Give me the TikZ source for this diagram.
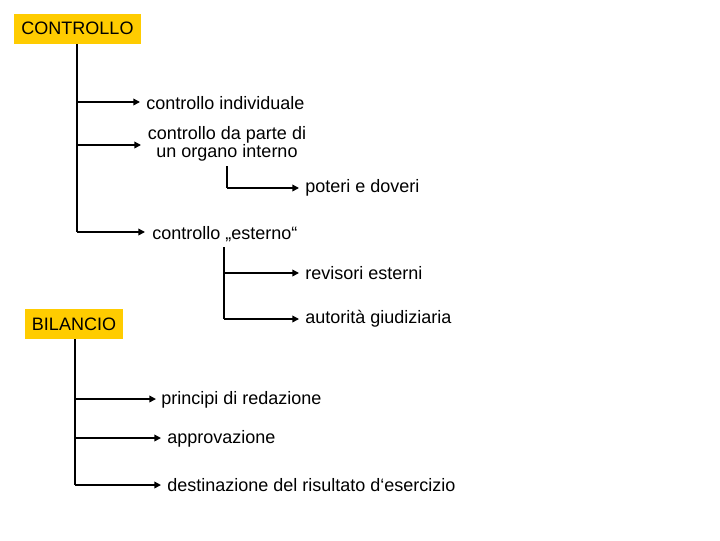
\documentclass[tikz,border=0pt]{standalone}
\usepackage{fontspec}
\setmainfont{Liberation Sans}
\usetikzlibrary{arrows.meta}
\definecolor{ybox}{HTML}{FFCC00}
\begin{document}
\begin{tikzpicture}[x=0.75pt,y=-0.75pt,
  every node/.style={font=\fontsize{13.5}{13.5}\selectfont,inner sep=0pt},
  hdr/.style={fill=ybox,minimum height=22.5pt,inner xsep=4pt},
  lbl/.style={anchor=west},
  arr/.style={line width=1.1pt,-{Triangle[length=5pt,width=5pt]}},
  ln/.style={line width=1.1pt}]
\useasboundingbox (0,0) rectangle (720,540);
\node[hdr,minimum width=95.25pt] (ctrl) at (77.5,28.5) {CONTROLLO};
\node[hdr,minimum width=73.5pt] (bil) at (74,324) {BILANCIO};
\node[lbl] (ci) at (146,103) {controllo individuale};
\node[align=center] (cd) at (227,144) {controllo da parte di\\un organo interno};
\node[lbl] (pd) at (305,188) {poteri e doveri};
\node[lbl] (ce) at (152,234) {controllo „esterno“};
\node[lbl] (re) at (305,273) {revisori esterni};
\node[lbl] (ag) at (305,319) {autorità giudiziaria};
\node[lbl] (pr) at (161,400) {principi di redazione};
\node[lbl] (ap) at (167,439) {approvazione};
\node[lbl] (de) at (167,485) {destinazione del risultato d‘esercizio};
\coordinate (t1) at (77,232);
\draw[ln] (ctrl.south -| t1) -- (t1);
\draw[arr] (77,102) -- (140,102);
\draw[arr] (77,145) -- (141,145);
\draw[arr] (t1) -- (145,232);
\draw[ln] (227,166) -- (227,188);
\draw[arr] (227,188) -- (299,188);
\draw[ln] (224,247) -- (224,319);
\draw[arr] (224,273) -- (299,273);
\draw[arr] (224,319) -- (299,319);
\draw[ln] (bil.south -| 75,0) -- (75,485);
\draw[arr] (75,399) -- (156,399);
\draw[arr] (75,438) -- (161,438);
\draw[arr] (75,485) -- (161,485);
\end{tikzpicture}
\end{document}
